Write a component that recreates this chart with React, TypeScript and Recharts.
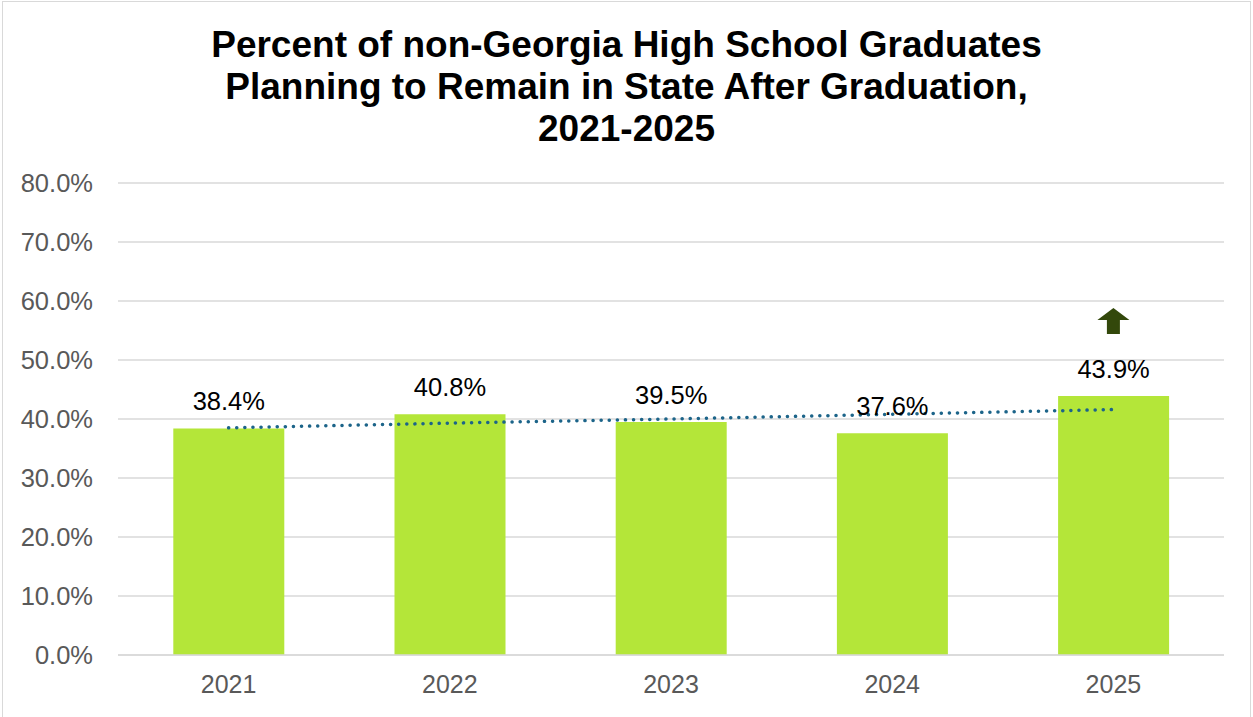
import React from "react";
import {
  Bar,
  CartesianGrid,
  ComposedChart,
  LabelList,
  Line,
  ReferenceDot,
  XAxis,
  YAxis,
} from "recharts";

// 年份与数值（百分比）
const years = ["2021", "2022", "2023", "2024", "2025"];
const percents = [38.4, 40.8, 39.5, 37.6, 43.9];
// 线性趋势线，按图上读数估计
const trendValues = [38.5, 39.3, 40.0, 40.8, 41.6];
const yTicks = [0, 10, 20, 30, 40, 50, 60, 70, 80];
const titleLines = [
  "Percent of non-Georgia High School Graduates",
  "Planning to Remain in State After Graduation,",
  "2021-2025",
];

const FONT = '"Liberation Sans", Arial, sans-serif';

const data = years.map((y, i) => ({
  year: y,
  value: percents[i],
  trend: trendValues[i],
}));

// 2025 上方的向上箭头
function UpArrow(props: any) {
  const { cx, cy } = props;
  if (cx == null || cy == null) return null;
  const top = cy - 13;
  const mid = cy - 1;
  const bottom = cy + 13;
  const hw = 16;
  const sw = 6.5;
  const d = `M${cx} ${top} L${cx + hw} ${mid} L${cx + sw} ${mid} L${cx + sw} ${bottom} L${cx - sw} ${bottom} L${cx - sw} ${mid} L${cx - hw} ${mid} Z`;
  return <path d={d} fill="#33480b" />;
}

export default function App() {
  return (
    <div
      style={{
        position: "absolute",
        left: 0,
        top: 0,
        width: 1253,
        height: 717,
        background: "#fff",
        overflow: "hidden",
        fontFamily: FONT,
      }}
    >
      <div
        style={{
          position: "absolute",
          left: 2,
          top: 1,
          width: 1249,
          height: 730,
          border: "1px solid #d9d9d9",
          boxSizing: "border-box",
        }}
      />
      <div
        style={{
          position: "absolute",
          left: 0,
          top: 24,
          width: 1253,
          textAlign: "center",
          fontWeight: "bold",
          fontSize: 37,
          lineHeight: "42px",
          color: "#000",
        }}
      >
        {titleLines.map((t) => (
          <div key={t}>{t}</div>
        ))}
      </div>
      <div style={{ position: "absolute", left: 0, top: 0 }}>
        <ComposedChart
          width={1253}
          height={717}
          data={data}
          margin={{ top: 183, right: 29, bottom: 0, left: 0 }}
          barCategoryGap="25%"
        >
          <CartesianGrid vertical={false} stroke="#d9d9d9" strokeWidth={1.5} />
          <XAxis
            dataKey="year"
            height={62}
            axisLine={{ stroke: "#d9d9d9", strokeWidth: 1.5 }}
            tickLine={false}
            tickSize={0}
            tickMargin={20}
            tick={{ fill: "#595959", fontSize: 25, fontFamily: FONT }}
          />
          <YAxis
            width={118}
            domain={[0, 80]}
            ticks={yTicks}
            interval={0}
            axisLine={false}
            tickLine={false}
            tickSize={0}
            tickMargin={25}
            tickFormatter={(v: number) => `${v.toFixed(1)}%`}
            tick={{ fill: "#595959", fontSize: 25.5, fontFamily: FONT }}
          />
          <Bar dataKey="value" fill="#b4e639" isAnimationActive={false}>
            <LabelList
              dataKey="value"
              position="top"
              offset={18}
              formatter={(v: number) => `${v.toFixed(1)}%`}
              style={{ fill: "#000", fontSize: 25.5, fontFamily: FONT }}
            />
          </Bar>
          <Line
            type="linear"
            dataKey="trend"
            stroke="#1c6489"
            strokeWidth={3.5}
            strokeDasharray="0.1 8"
            strokeLinecap="round"
            dot={false}
            activeDot={false}
            isAnimationActive={false}
          />
          <ReferenceDot x="2025" y={56.6} r={0} shape={<UpArrow />} />
        </ComposedChart>
      </div>
    </div>
  );
}
